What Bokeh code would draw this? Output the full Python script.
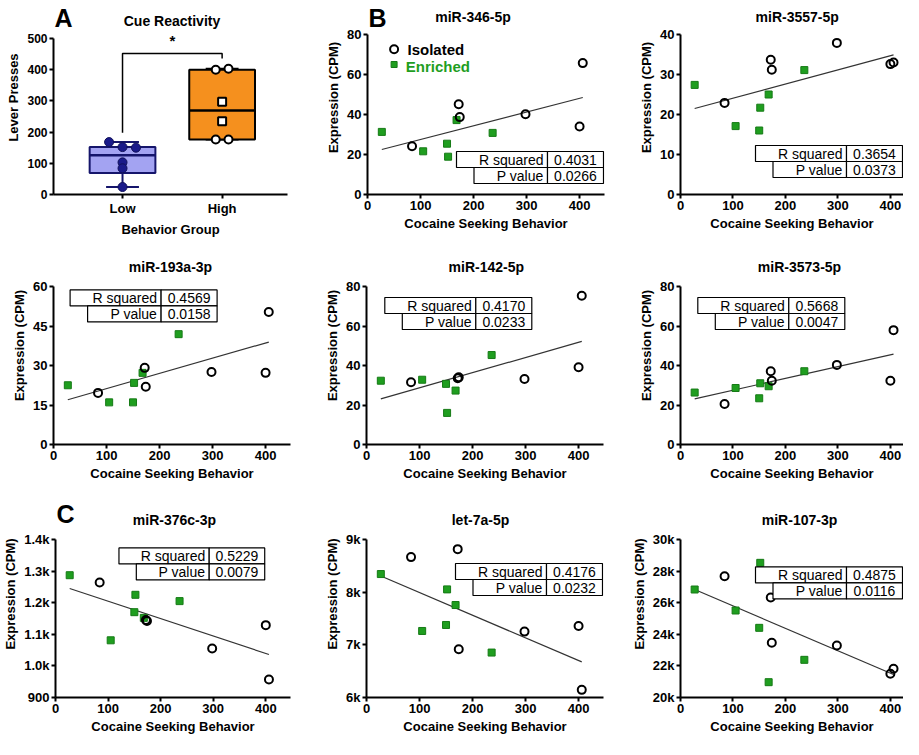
import numpy as np
from bokeh.plotting import figure
from bokeh.layouts import column, row
from bokeh.models import FixedTicker, Range1d
from bokeh.core.properties import value
from bokeh.embed import file_html
from bokeh.resources import INLINE

FONT = "Liberation Sans"
GREEN = "#1f9e1f"
GREEN_DARK = "#167a16"

# ---------------- Panel A data ----------------
group_labels = ["Low", "High"]
low_presses = [168, 152, 150, 103, 84, 24]
high_presses = [403, 400, 297, 235, 176, 176]
high_markers = ["circle", "circle", "square", "square", "circle", "circle"]
# min, q1, median, q3, max
low_box = [24, 69, 126, 152, 168]
high_box = [176, 176, 269, 400, 403]

# ---------------- Shared x values ----------------
x_isolated = [84, 172, 174, 298, 400, 406]
x_enriched = [27, 105, 150, 152, 168, 236]

# ---------------- Panel B / C data ----------------
mir346_iso = [24.1, 45.1, 38.7, 40.1, 34.0, 65.7]
mir346_enr = [31.3, 21.6, 25.4, 18.9, 37.2, 30.8]
mir346_fit = [22.5, 48.5]

mir3557_iso = [22.9, 33.7, 31.2, 37.9, 32.6, 33.0]
mir3557_enr = [27.4, 17.1, 16.0, 21.7, 25.0, 31.1]
mir3557_fit = [21.5, 34.9]

mir193_iso = [19.6, 29.1, 21.9, 27.5, 27.2, 50.3]
mir193_enr = [22.5, 16.0, 16.0, 23.4, 27.2, 41.9]
mir193_fit = [17.0, 38.9]

mir142_iso = [31.5, 33.5, 34.0, 33.2, 39.1, 75.3]
mir142_enr = [32.3, 32.8, 30.7, 16.0, 27.3, 45.3]
mir142_fit = [23.1, 52.2]

mir3573_iso = [20.5, 37.1, 32.3, 40.3, 32.3, 57.9]
mir3573_enr = [26.3, 28.6, 23.4, 31.0, 29.5, 37.1]
mir3573_fit = [23.1, 45.8]

mir376_iso = [1264, 1145, 1142, 1055, 1129, 957]
mir376_enr = [1287, 1081, 1170, 1225, 1152, 1205]
mir376_fit = [1245, 1036]

let7a_iso = [8666, 8817, 6916, 7251, 7358, 6145]
let7a_enr = [8344, 7263, 7377, 8053, 7756, 6853]
let7a_fit = [8306, 6676]

mir107_iso = [27679, 26329, 23460, 23291, 21498, 21814]
mir107_enr = [26835, 25506, 24409, 28523, 20970, 22384]
mir107_fit = [26835, 21456]

stats_rsq = ["0.4031", "0.3654", "0.4569", "0.4170", "0.5668", "0.5229", "0.4176", "0.4875"]
stats_p = ["0.0266", "0.0373", "0.0158", "0.0233", "0.0047", "0.0079", "0.0232", "0.0116"]

x_ticks = [0, 100, 200, 300, 400]


def style_axes(p, tick_size="13px"):
    p.xgrid.visible = False
    p.ygrid.visible = False
    p.outline_line_color = None
    p.background_fill_color = "white"
    p.border_fill_color = "white"
    for ax in (p.xaxis[0], p.yaxis[0]):
        ax.axis_line_width = 2
        ax.axis_line_color = "black"
        ax.major_tick_line_width = 2
        ax.major_tick_line_color = "black"
        ax.major_tick_out = 4
        ax.major_tick_in = 0
        ax.minor_tick_line_color = None
        ax.major_label_text_font = FONT
        ax.major_label_text_font_style = "bold"
        ax.major_label_text_font_size = tick_size
        ax.major_label_text_color = "black"
        ax.axis_label_text_font = FONT
        ax.axis_label_text_font_style = "bold"
        ax.axis_label_text_font_size = "13px"
        ax.axis_label_text_color = "black"
        ax.axis_label_standoff = 3
        ax.major_label_standoff = 2


class Panel:
    """Figure whose frame reaches the figure's top edge so that the title and the
    panel letter are drawn as text inside it; the y axis line is bounded to the
    data range, so it stops at the top tick."""

    def __init__(self, w, h, L, R, B, top_y, x0, x_scale, yr):
        self.x0, self.x_scale, self.yr = x0, x_scale, yr
        self.axis_x, self.top_y = L, top_y
        fw = w - L - R
        fh = h - B
        x_end = x0 + fw / x_scale
        self.y_scale = (fh - top_y) / (yr[1] - yr[0])
        y_end = yr[1] + top_y / self.y_scale
        self.p = figure(width=w, height=h, x_range=Range1d(x0, x_end), y_range=Range1d(yr[0], y_end),
                        output_backend="svg", toolbar_location=None,
                        min_border_left=L, min_border_right=R, min_border_top=0, min_border_bottom=B)
        self.p.title = None
        style_axes(self.p)
        self.p.yaxis.bounds = (yr[0], yr[1])
        self.x_end = x_end

    # positions in px relative to the axis origin (axis line x, top tick y)
    def X(self, dx):
        return self.x0 + dx / self.x_scale

    def Y(self, dy):
        return self.yr[1] - dy / self.y_scale

    # positions in px relative to the figure's top-left corner
    def Xf(self, px):
        return self.X(px - self.axis_x)

    def Yf(self, py):
        return self.Y(py - self.top_y)

    def glyph_title(self, text, cx, cy):
        self.p.text([self.Xf(cx)], [self.Yf(cy)], text=[text], text_font=value(FONT),
                    text_font_style="bold", text_font_size=value("14px"), text_align="center",
                    text_baseline="middle", text_color="black")

    def letter(self, text, ly):
        self.p.text([self.Xf(self.axis_x + 1)], [self.Yf(ly)], text=[text], text_font=value(FONT),
                    text_font_style="bold", text_font_size=value("25px"), text_align="left",
                    text_baseline="top", text_color="black")


# ---------------- Panel A ----------------
PA = Panel(300, 246, 53, 13, 52, top_y=38, x0=0.307, x_scale=99.6, yr=(0, 500))
pA = PA.p
pA.xaxis.axis_label = "Behavior Group"
pA.yaxis.axis_label = "Lever Presses"
pA.xaxis.ticker = FixedTicker(ticks=[1, 2])
pA.xaxis.major_label_overrides = {1: group_labels[0], 2: group_labels[1]}
pA.yaxis.ticker = FixedTicker(ticks=[0, 100, 200, 300, 400, 500])
pA.yaxis.major_label_text_font_size = "12px"
PA.glyph_title("Cue Reactivity", 171.5, 20)
PA.letter("A", 3)

bw = 0.33
for xc, bx, fill, edge in [(1, low_box, "#a3a3f2", "#15156b"), (2, high_box, "#f5901e", "black")]:
    mn, q1, med, q3, mx = bx
    pA.segment(x0=[xc, xc], y0=[mn, q3], x1=[xc, xc], y1=[q1, mx], line_color=edge, line_width=2)
    pA.segment(x0=[xc - 0.165, xc - 0.165], y0=[mn, mx], x1=[xc + 0.165, xc + 0.165], y1=[mn, mx],
               line_color=edge, line_width=2)
    pA.quad(left=[xc - bw], right=[xc + bw], bottom=[q1], top=[q3], fill_color=fill,
            line_color=edge, line_width=2)
    pA.segment(x0=[xc - bw], y0=[med], x1=[xc + bw], y1=[med], line_color=edge, line_width=2.5)

low_jit = [-0.135, 0, 0.135, 0, 0, 0]
high_jit = [0.064, -0.064, 0, 0, -0.064, 0.064]
pA.scatter([1 + j for j in low_jit], low_presses, size=9, marker="circle",
           fill_color="#1a1a8a", line_color="#10105a", line_width=1)
pA.scatter([2 + j for j in high_jit], high_presses, size=8, marker=high_markers,
           fill_color="white", line_color="black", line_width=2)
pA.line([1, 1, 2, 2], [198, 452, 452, 436], line_color="black", line_width=1.5)
pA.text([1.5], [466], text=["*"], text_font=value(FONT), text_font_style="bold",
        text_font_size=value("15px"), text_align="center", text_baseline="bottom", text_color="black")


def scatter_panel(title, iso, enr, fit, yr, yticks, ylabels, si, w, h, L, R, B, top_y, x_scale,
                  table_px, title_px, letter=None, letter_y=None, legend=False):
    P = Panel(w, h, L, R, B, top_y, 0, x_scale, yr)
    p = P.p
    P.glyph_title(title, *title_px)
    if letter:
        P.letter(letter, letter_y)
    p.xaxis.axis_label = "Cocaine Seeking Behavior"
    p.yaxis.axis_label = "Expression (CPM)"
    p.xaxis.ticker = FixedTicker(ticks=x_ticks)
    p.yaxis.ticker = FixedTicker(ticks=yticks)
    if ylabels is not None:
        p.yaxis.major_label_overrides = dict(zip(yticks, ylabels))
    X, Y = P.X, P.Y
    fw_axis = P.x_end * x_scale  # px from axis line to frame right

    # regression line
    p.line([min(x_enriched), max(x_isolated)], fit, line_color="#333333", line_width=1.2)
    p.scatter(x_enriched, enr, marker="square", size=7, fill_color=GREEN,
              line_color=GREEN_DARK, line_width=1)
    p.scatter(x_isolated, iso, marker="circle", size=8, fill_color=None,
              line_color="black", line_width=2)

    # stats table
    tl, tt = table_px
    tl = min(tl, fw_axis - 148)
    rh = 16
    div = tl + 91
    right = tl + 147
    p.quad(left=[X(tl), X(div), X(tl + 17.5), X(div)],
           right=[X(div), X(right), X(div), X(right)],
           top=[Y(tt), Y(tt), Y(tt + rh), Y(tt + rh)],
           bottom=[Y(tt + rh), Y(tt + rh), Y(tt + 2 * rh), Y(tt + 2 * rh)],
           fill_color="white", line_color="black", line_width=1.2)
    p.text([X(div - 4), X(div - 4)], [Y(tt + rh / 2), Y(tt + 1.5 * rh)],
           text=["R squared", "P value"], text_font=value(FONT), text_font_size=value("14px"),
           text_align="right", text_baseline="middle", text_color="black")
    p.text([X((div + right) / 2)] * 2, [Y(tt + rh / 2), Y(tt + 1.5 * rh)],
           text=[stats_rsq[si], stats_p[si]], text_font=value(FONT), text_font_size=value("14px"),
           text_align="center", text_baseline="middle", text_color="black")

    if legend:
        p.scatter([X(26.6)], [Y(14.7)], marker="circle", size=8, fill_color=None,
                  line_color="black", line_width=2)
        p.scatter([X(26.6)], [Y(30)], marker="square", size=6, fill_color=GREEN,
                  line_color=GREEN_DARK, line_width=1)
        p.text([X(40)], [Y(14.7)], text=["Isolated"], text_font=value(FONT), text_font_style="bold",
               text_font_size=value("15px"), text_baseline="middle", text_color="black")
        p.text([X(38.3)], [Y(31.5)], text=["Enriched"], text_font=value(FONT), text_font_style="bold",
               text_font_size=value("15px"), text_baseline="middle", text_color=GREEN)
    return p


S12 = 237 / 447
S3 = 223 / 425
yt80 = [0, 20, 40, 60, 80]
# row 1  (figures 0..246)
pB1 = scatter_panel("miR-346-5p", mir346_iso, mir346_enr, mir346_fit, (0, 80), yt80, None, 0,
                    310, 246, 67, 6, 52, 34, S12, (90, 117), (172.5, 16),
                    letter="B", letter_y=3, legend=True)
pB2 = scatter_panel("miR-3557-5p", mir3557_iso, mir3557_enr, mir3557_fit, (0, 40),
                    [0, 10, 20, 30, 40], None, 1, 293, 246, 70, 0, 52, 34, S3, (85.7, 111),
                    (186.7, 16))
# row 2  (figures 246..490)
pB3 = scatter_panel("miR-193a-3p", mir193_iso, mir193_enr, mir193_fit, (0, 60),
                    [0, 15, 30, 45, 60], None, 2, 300, 244, 53, 10, 46, 40, S12, (16.6, 3.4),
                    (170, 20))
pB4 = scatter_panel("miR-142-5p", mir142_iso, mir142_enr, mir142_fit, (0, 80), yt80, None, 3,
                    310, 244, 66, 7, 46, 40, S12, (18.3, 11), (185.8, 20))
pB5 = scatter_panel("miR-3573-5p", mir3573_iso, mir3573_enr, mir3573_fit, (0, 80), yt80, None, 4,
                    293, 244, 70, 0, 46, 40, S3, (17.3, 11), (189, 20))
# row 3  (figures 490..739)
pC1 = scatter_panel("miR-376c-3p", mir376_iso, mir376_enr, mir376_fit, (900, 1400),
                    [900, 1000, 1100, 1200, 1300, 1400],
                    ["900", "1.0k", "1.1k", "1.2k", "1.3k", "1.4k"], 5,
                    300, 249, 53, 10, 42, 49, S12, (64, 8.4), (173, 29),
                    letter="C", letter_y=9)
pC2 = scatter_panel("let-7a-5p", let7a_iso, let7a_enr, let7a_fit, (6000, 9000),
                    [6000, 7000, 8000, 9000], ["6k", "7k", "8k", "9k"], 6,
                    310, 249, 66, 7, 42, 49, S12, (91.6, 24), (180, 29))
pC3 = scatter_panel("miR-107-3p", mir107_iso, mir107_enr, mir107_fit, (20000, 30000),
                    [20000, 22000, 24000, 26000, 28000, 30000],
                    ["20k", "22k", "24k", "26k", "28k", "30k"], 7,
                    293, 249, 70, 0, 42, 49, S3, (90.7, 27.4), (189, 29))

layout = column(row(pA, pB1, pB2), row(pB3, pB4, pB5), row(pC1, pC2, pC3))
open("out.html", "w").write(file_html(layout, INLINE))
